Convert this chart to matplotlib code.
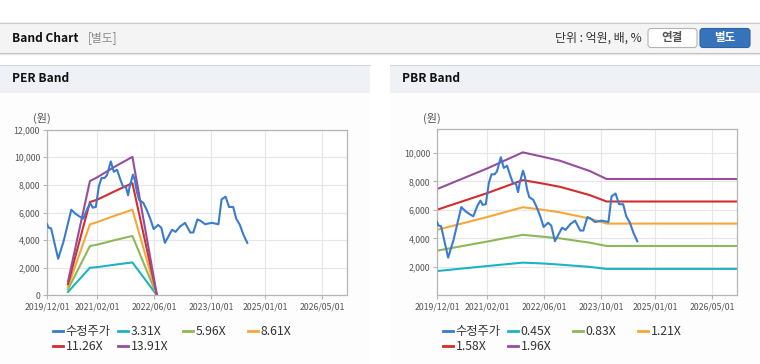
import matplotlib
matplotlib.use("Agg")
import matplotlib.pyplot as plt  # noqa: E402
import matplotlib.dates as mdates  # noqa: E402
from matplotlib.lines import Line2D  # noqa: E402
from matplotlib.patches import Rectangle, FancyBboxPatch  # noqa: E402
import pandas as pd  # noqa: E402

plt.rcParams['font.family'] = ['Noto Sans CJK KR', 'DejaVu Sans']

# ---- data ----
price_dates = ["2019-12-01", "2019-12-15", "2020-01-05", "2020-03-05", "2020-04-20",
               "2020-06-25", "2020-08-01", "2020-09-05", "2020-10-05", "2020-11-10",
               "2020-12-05", "2020-12-25", "2021-01-20", "2021-02-15", "2021-03-10",
               "2021-04-05", "2021-04-25", "2021-05-28", "2021-06-22", "2021-07-20",
               "2021-08-15", "2021-09-05", "2021-10-05", "2021-10-22", "2021-11-05",
               "2021-12-03", "2021-12-20", "2022-01-05", "2022-01-25", "2022-03-01",
               "2022-04-01", "2022-05-01", "2022-05-28", "2022-07-05", "2022-08-01",
               "2022-09-01", "2022-11-01", "2022-12-01", "2023-01-10", "2023-02-20",
               "2023-04-05", "2023-05-01", "2023-06-05", "2023-07-01", "2023-08-10",
               "2023-10-05", "2023-12-01", "2023-12-28", "2024-01-31", "2024-03-01",
               "2024-04-05", "2024-05-01", "2024-06-01", "2024-07-01", "2024-08-03"]
price_vals = [5150, 4900, 4850, 2650, 3900,
              6200, 5900, 5700, 5550, 6300,
              6650, 6350, 6400, 7900, 8500,
              8500, 8700, 9700, 8950, 9100,
              8450, 7950, 7800, 7250, 7900,
              8750, 8300, 7500, 6900, 6700,
              6150, 5500, 4800, 5100, 4900,
              3800, 4750, 4600, 5000, 5250,
              4550, 4550, 5500, 5400, 5150,
              5250, 5150, 6950, 7150, 6400,
              6400, 5550, 5100, 4400, 3800]

per_dates = ["2020-05-28", "2020-12-01", "2021-02-01", "2021-07-01", "2021-11-28", "2022-06-25"]
per_331 = [240, 2000, 2040, 2220, 2380, 0]
per_596 = [430, 3570, 3670, 4000, 4300, 0]
per_861 = [620, 5140, 5300, 5770, 6200, 0]
per_1126 = [810, 6760, 6930, 7540, 8130, 0]
per_1391 = [1000, 8280, 8550, 9320, 10030, 0]
per_labels = ["3.31X", "5.96X", "8.61X", "11.26X", "13.91X"]

pbr_dates = ["2019-12-01", "2021-02-01", "2021-12-01", "2022-05-20", "2022-10-15",
             "2023-06-25", "2023-11-15", "2026-12-01"]
pbr_045 = [1710, 2060, 2300, 2240, 2160, 2000, 1860, 1860]
pbr_083 = [3140, 3780, 4250, 4120, 4000, 3700, 3470, 3470]
pbr_121 = [4600, 5500, 6190, 6010, 5830, 5390, 5040, 5040]
pbr_158 = [6010, 7180, 8090, 7850, 7620, 7040, 6590, 6590]
pbr_196 = [7460, 8910, 10040, 9730, 9450, 8730, 8170, 8170]
pbr_labels = ["0.45X", "0.83X", "1.21X", "1.58X", "1.96X"]

xtick_dates = ["2019-12-01", "2021-02-01", "2022-06-01", "2023-10-01", "2025-01-01", "2026-05-01"]

PRICE_C = "#3a7bd0"
BAND_C = ["#1fb3c2", "#8db85a", "#f5a83a", "#d32d2d", "#954e9e"]
W, H = 760, 364

fig = plt.figure(figsize=(W / 100, H / 100), dpi=100)

# page chrome in pixel coordinates
bg = fig.add_axes([0, 0, 1, 1])
bg.set_xlim(0, W); bg.set_ylim(H, 0); bg.axis("off")
bg.add_patch(Rectangle((0, 22), W, 31, fc="#f4f4f4", ec="none"))
bg.plot([0, W], [22.5, 22.5], color="#cbcbcb", lw=0.8)
bg.plot([0, W], [52.5, 52.5], color="#bdbdbd", lw=0.8)
bg.plot([0, W], [53.8, 53.8], color="#e6e6e6", lw=1.0)
bg.text(12, 38, "Band Chart", fontsize=8.6, fontweight="bold", va="center", color="#111111")
bg.text(88, 38, "[별도]", fontsize=8.5, va="center", color="#8a8a8a")
bg.text(642, 38, "단위 : 억원, 배, %", fontsize=8.6, va="center", ha="right", color="#333333")
bg.add_patch(FancyBboxPatch((648, 28.5), 49, 19, boxstyle="round,pad=0,rounding_size=3",
                            fc="white", ec="#b5b5b5", lw=0.8))
bg.text(672.5, 38, "연결", fontsize=8.3, fontweight="bold", ha="center", va="center", color="#555555")
bg.add_patch(FancyBboxPatch((700, 28.5), 50, 19, boxstyle="round,pad=0,rounding_size=3",
                            fc="#3673ba", ec="#2d63a2", lw=0.8))
bg.text(725, 38, "별도", fontsize=8.3, fontweight="bold", ha="center", va="center", color="white")

for x0, w, title in ((0, 370, "PER Band"), (390, 370, "PBR Band")):
    bg.add_patch(Rectangle((x0, 64.5), w, H - 64.5, fc="#fdfdfd", ec="none"))
    bg.add_patch(Rectangle((x0, 64.5), w, 28.5, fc="#eef2f7", ec="none"))
    bg.plot([x0, x0 + w], [64.5, 64.5], color="#d6d6d6", lw=0.8)
    bg.text(x0 + 12, 79, title, fontsize=8.6, fontweight="bold", va="center", color="#111111")
    bg.text(x0 + 42, 118, "(원)", fontsize=8, ha="center", va="center", color="#555555")


def draw_panel(rect, ymax, yticks, bands, band_dates, labels, leg_x):
    ax = fig.add_axes(rect)
    ax.set_facecolor("#ffffff")
    ax.plot(pd.to_datetime(price_dates), price_vals, color=PRICE_C, lw=1.5, zorder=3)
    bd = pd.to_datetime(band_dates)
    for vals, c in zip(bands, BAND_C):
        ax.plot(bd, vals, color=c, lw=1.5, zorder=2)
    ax.set_xlim(pd.Timestamp("2019-12-01"), pd.Timestamp("2026-12-01"))
    ax.set_ylim(0, ymax)
    ax.set_xticks(pd.to_datetime(xtick_dates))
    ax.xaxis.set_major_formatter(mdates.DateFormatter("%Y/%m/%d"))
    ax.set_yticks(yticks)
    ax.set_yticklabels([f"{v:,}" for v in yticks])
    ax.grid(color="#e6e6e6", lw=0.8)
    ax.set_axisbelow(True)
    for s in ax.spines.values():
        s.set_color("#b5b5b5"); s.set_linewidth(0.9)
    ax.tick_params(length=3, color="#b5b5b5", labelsize=6.3, labelcolor="#555555", pad=2)

    handles = [Line2D([], [], color=PRICE_C, lw=2)] + [Line2D([], [], color=c, lw=2) for c in BAND_C]
    names = ["수정주가"] + labels
    cols = [[0, 4], [1, 5], [2], [3]]
    for ci, idx in enumerate(cols):
        leg = fig.legend([handles[i] for i in idx], [names[i] for i in idx],
                         loc="upper left", bbox_to_anchor=((leg_x + 65 * ci) / W, 1 - 325 / H),
                         frameon=False, fontsize=8.8, handlelength=0.8, handletextpad=0.25,
                         borderpad=0, borderaxespad=0, labelspacing=0.15)
        for t in leg.get_texts():
            t.set_color("#333333")
    return ax


draw_panel([47 / W, 1 - 295.3 / H, 300 / W, 165.6 / H], 12000,
           [0, 2000, 4000, 6000, 8000, 10000, 12000],
           [per_331, per_596, per_861, per_1126, per_1391], per_dates, per_labels, 53)
draw_panel([437 / W, 1 - 295.4 / H, 300 / W, 166.7 / H], 11700,
           [2000, 4000, 6000, 8000, 10000],
           [pbr_045, pbr_083, pbr_121, pbr_158, pbr_196], pbr_dates, pbr_labels, 443)

fig.savefig("out.png", dpi=100)
